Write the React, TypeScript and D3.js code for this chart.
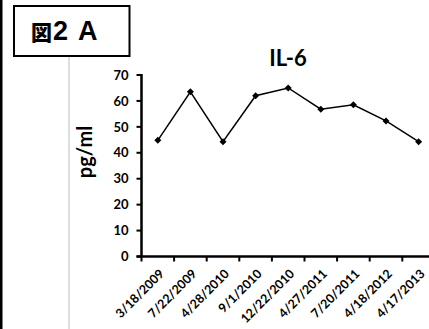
import React from "react";
import * as d3 from "d3";

const categories = ["3/18/2009", "7/22/2009", "4/28/2010", "9/1/2010", "12/22/2010", "4/27/2011", "7/20/2011", "4/18/2012", "4/17/2013"];
const values = [44.8, 63.5, 44.3, 62, 65, 56.8, 58.5, 52.3, 44.3];
const yTicks = [0, 10, 20, 30, 40, 50, 60, 70];

export default function App() {
  const W = 429, H = 329;
  const left = 141.5, step = 32.6;
  const x = d3.scaleBand<string>().domain(categories).range([left, left + step * categories.length]);
  const y = d3.scaleLinear().domain([0, 70]).range([256.5, 75]);
  const line = d3.line<number>().x((_, i) => (x(categories[i]) as number) + x.bandwidth() / 2).y((d) => y(d));
  const boundaries = d3.range(categories.length + 1).map((i) => left + i * step);
  const font = "Lato, 'Open Sans', 'Liberation Sans', sans-serif";
  return (
    <svg width={W} height={H} style={{ position: "absolute", left: 0, top: 0, background: "#fff" }} fontFamily={font}>
      <rect x={0} y={0} width={W} height={H} fill="#fff" />
      <rect x={0} y={0} width={2.5} height={H} fill="#000" />
      <line x1={69} x2={69} y1={57} y2={H} stroke="#c8c8c8" strokeWidth={1.2} />
      <rect x={14} y={6} width={115.5} height={50} fill="#fff" stroke="#000" strokeWidth={2} />
      <text x={31} y={39.5} fontSize={21} fontWeight={900} fontFamily="'Noto Sans CJK JP', sans-serif">図</text>
      <text x={53} y={40} fontSize={27} fontWeight="bold" fontFamily="'Liberation Sans', Arial, sans-serif">2</text>
      <text x={78} y={40} fontSize={27} fontWeight="bold" fontFamily="'Liberation Sans', Arial, sans-serif">A</text>
      <text x={288} y={66} textAnchor="middle" fontSize={22} fontWeight="bold">IL-6</text>
      <text transform={`translate(92,152) rotate(-90)`} textAnchor="middle" fontSize={20} fontWeight="bold">pg/ml</text>
      {yTicks.map((t) => (
        <g key={t}>
          <line x1={left - 5} x2={left} y1={y(t)} y2={y(t)} stroke="#000" strokeWidth={2} />
          <text x={left - 13} y={y(t)} dy="0.36em" textAnchor="end" fontSize={13} fontWeight="bold">{t}</text>
        </g>
      ))}
      {boundaries.map((b, i) => (
        <line key={i} x1={b} x2={b} y1={y(0)} y2={y(0) + 5} stroke="#000" strokeWidth={2} />
      ))}
      <line x1={left} x2={left} y1={y(70) - 1} y2={y(0)} stroke="#000" strokeWidth={2.5} />
      <line x1={left - 5} x2={left + step * categories.length} y1={y(0)} y2={y(0)} stroke="#000" strokeWidth={2.5} />
      {categories.map((c) => {
        const cx = (x(c) as number) + x.bandwidth() / 2;
        return (
          <text key={c} transform={`translate(${cx + 7},${y(0) + 18}) rotate(-45)`} textAnchor="end" fontSize={12.5} fontWeight="bold">{c}</text>
        );
      })}
      <path d={line(values) || ""} fill="none" stroke="#000" strokeWidth={1.5} />
      {values.map((v, i) => {
        const cx = (x(categories[i]) as number) + x.bandwidth() / 2;
        const cy = y(v);
        return <path key={i} d={`M${cx},${cy - 3.5}L${cx + 3.5},${cy}L${cx},${cy + 3.5}L${cx - 3.5},${cy}Z`} fill="#000" />;
      })}
    </svg>
  );
}
